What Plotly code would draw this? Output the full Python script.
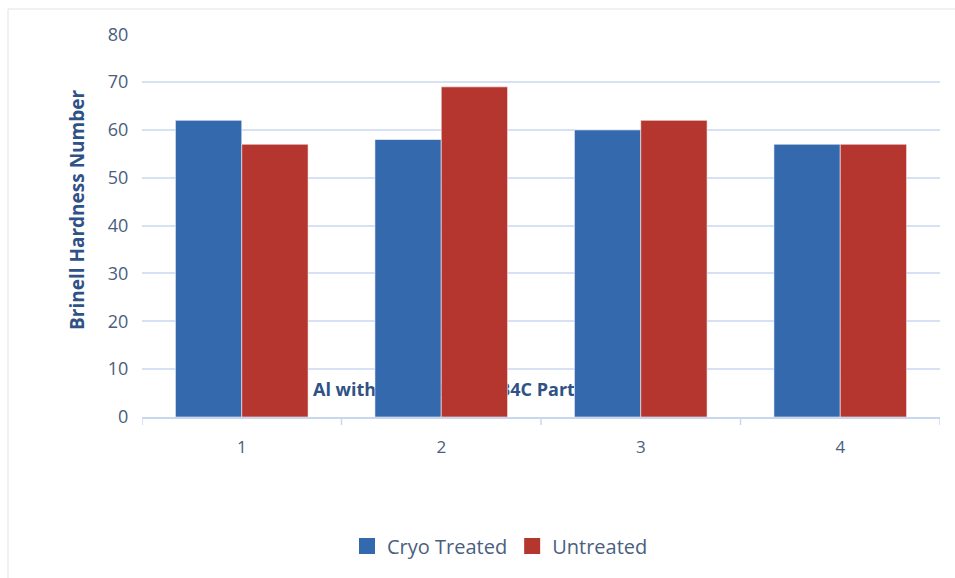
import plotly.graph_objects as go

categories = [1, 2, 3, 4]
cryo_treated = [62, 58, 60, 57]
untreated = [57, 69, 62, 57]
y_ticks = [0, 10, 20, 30, 40, 50, 60, 70, 80]
title_text = "Al with 12.5 wt. % of B4C Particles"
y_title = "Brinell Hardness Number"
series_names = ["Cryo Treated", "Untreated"]
series_colors = ["#3469AE", "#B4362F"]

W, H = 955, 578
ml, mr, mt, mb = 142, 15, 34, 161
plot_w = W - ml - mr
plot_h = H - mt - mb

def px_to_paper_x(px):
    return (px - ml) / plot_w

def px_to_paper_y(py):
    return (H - mb - py) / plot_h

fig = go.Figure()

# chart title, sitting behind the bars (base axes are drawn under the overlay axes)
fig.add_trace(go.Scatter(
    x=[0.5 + (313 - ml) / plot_w * 4], y=[5.3], mode="text", text=[title_text],
    textposition="middle right",
    textfont=dict(family="Open Sans", size=18, color="#2F5286", weight="bold"),
    showlegend=False, hoverinfo="skip", xaxis="x", yaxis="y",
))

for vals, name, col in zip([cryo_treated, untreated], series_names, series_colors):
    fig.add_trace(go.Bar(
        x=categories, y=vals, name=name, showlegend=False,
        marker=dict(color=col, line=dict(color="rgba(255,255,255,0.55)", width=1)),
        xaxis="x2", yaxis="y2",
    ))

# legend entries with larger square swatches
for name, col in zip(series_names, series_colors):
    fig.add_trace(go.Scatter(
        x=[None], y=[None], mode="markers", name=name,
        marker=dict(symbol="square", size=19, color=col),
        xaxis="x2", yaxis="y2",
    ))

tick_font = dict(family="Open Sans", size=17, color="#4A5E80")

fig.update_layout(
    width=W, height=H,
    margin=dict(l=ml, r=mr, t=mt, b=mb),
    paper_bgcolor="white", plot_bgcolor="white",
    barmode="group", bargap=0.335, bargroupgap=0,
    xaxis=dict(
        range=[0.5, 4.5], tickvals=categories, ticktext=[str(c) for c in categories],
        showgrid=False, zeroline=False, showline=True, linecolor="#C9D7EE", linewidth=1.5,
        ticks="outside", ticklen=14, tickcolor="rgba(0,0,0,0)", tickfont=tick_font,
    ),
    yaxis=dict(
        range=[0, 80.05], tickvals=y_ticks, showgrid=True, gridcolor="#D6E2F4", gridwidth=1.5,
        zeroline=False, showline=False, tickfont=dict(family="Open Sans", size=18, color="#4A5E80"),
        ticklen=9, ticks="outside", tickcolor="rgba(0,0,0,0)",
    ),
    xaxis2=dict(
        overlaying="x", range=[0.5, 4.5], showgrid=False, zeroline=False, showline=False,
        showticklabels=False, ticks="",
    ),
    yaxis2=dict(
        overlaying="y", range=[0, 80.05], showgrid=False, zeroline=False, showline=False,
        showticklabels=False, ticks="",
    ),
    legend=dict(
        orientation="h", x=px_to_paper_x(500), xanchor="center", y=px_to_paper_y(546),
        yanchor="middle",
        font=dict(family="Open Sans", size=20, color="#4A5E80"),
        traceorder="normal", itemsizing="trace", bgcolor="rgba(0,0,0,0)",
    ),
    annotations=[dict(
        text=y_title, textangle=-90, xref="paper", yref="paper",
        x=px_to_paper_x(77), y=px_to_paper_y(210), xanchor="center", yanchor="middle",
        showarrow=False,
        font=dict(family="Open Sans", size=19, color="#2F5286", weight="bold"),
    )],
)

# category-boundary tick marks on the x axis
for b in [0.5, 1.5, 2.5, 3.5, 4.5]:
    fig.add_shape(type="line", xref="x", yref="paper", x0=b, x1=b, y0=0, y1=-8 / plot_h,
                  line=dict(color="#C9D7EE", width=1.5))

# outer chart border
fig.add_shape(type="rect", xref="paper", yref="paper",
              x0=px_to_paper_x(8), x1=px_to_paper_x(W + 5),
              y0=px_to_paper_y(H + 5), y1=px_to_paper_y(9),
              line=dict(color="#E3E3E3", width=1), fillcolor="rgba(0,0,0,0)", layer="below")

fig.write_html("out.html")
